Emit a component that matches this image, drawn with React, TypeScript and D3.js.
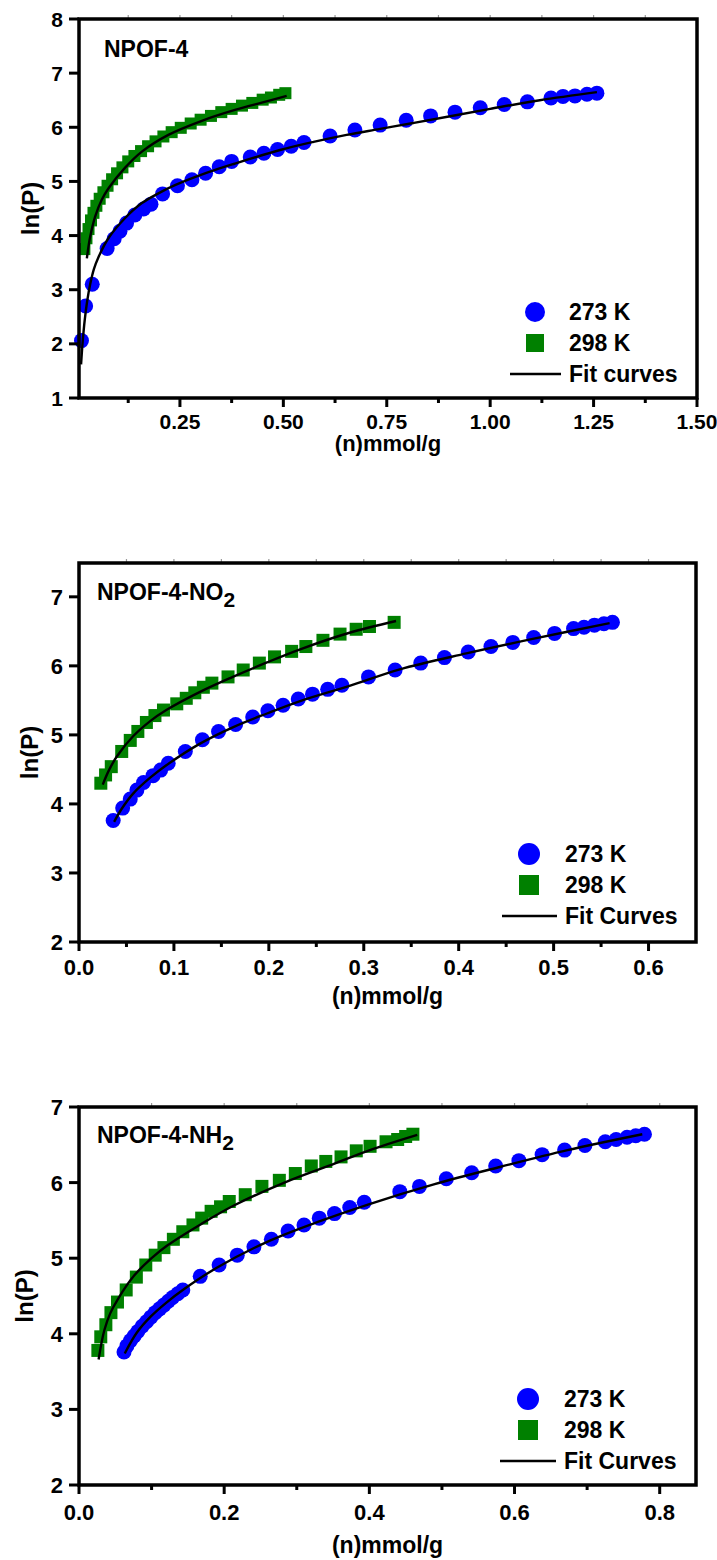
import React from 'react';
import * as d3 from 'd3';

type Pt = [number, number];

// ---------- Panel 1 : NPOF-4 ----------
const P1_TITLE = 'NPOF-4';
const P1_273: Pt[] = [[0.012,2.06],[0.022,2.70],[0.038,3.10],[0.074,3.76],[0.091,3.94],[0.105,4.08],[0.121,4.23],[0.141,4.38],[0.162,4.49],[0.180,4.58],[0.208,4.77],[0.244,4.92],[0.279,5.03],[0.312,5.15],[0.345,5.27],[0.375,5.37],[0.420,5.45],[0.453,5.52],[0.486,5.59],[0.519,5.65],[0.550,5.72],[0.613,5.84],[0.673,5.95],[0.734,6.04],[0.797,6.13],[0.856,6.21],[0.915,6.28],[0.976,6.36],[1.034,6.42],[1.090,6.47],[1.147,6.54],[1.176,6.57],[1.205,6.58],[1.234,6.61],[1.258,6.63]];
const P1_298: Pt[] = [[0.019,3.75],[0.024,3.95],[0.029,4.12],[0.035,4.28],[0.041,4.42],[0.048,4.55],[0.056,4.68],[0.065,4.80],[0.075,4.92],[0.086,5.04],[0.098,5.15],[0.111,5.26],[0.125,5.37],[0.140,5.47],[0.156,5.56],[0.173,5.65],[0.191,5.74],[0.210,5.83],[0.230,5.91],[0.252,5.99],[0.276,6.07],[0.300,6.14],[0.325,6.21],[0.350,6.28],[0.375,6.34],[0.400,6.40],[0.425,6.45],[0.450,6.51],[0.470,6.55],[0.490,6.60],[0.505,6.63]];
const P1_FIT273: Pt[] = [[0.011,1.62],[0.015,2.05],[0.02,2.45],[0.026,2.8],[0.033,3.1],[0.042,3.38],[0.053,3.6],[0.077,3.95],[0.117,4.32],[0.158,4.6],[0.198,4.78],[0.238,4.93],[0.319,5.17],[0.383,5.33],[0.492,5.58],[0.573,5.73],[0.653,5.86],[0.734,5.97],[0.814,6.08],[0.9,6.2],[1.0,6.34],[1.12,6.5],[1.258,6.65]];
const P1_FIT298: Pt[] = [[0.025,3.58],[0.029,3.8],[0.033,3.98],[0.045,4.35],[0.061,4.66],[0.077,4.87],[0.117,5.25],[0.158,5.55],[0.222,5.86],[0.303,6.12],[0.383,6.32],[0.45,6.46],[0.508,6.58]];
const P1_XTICKS = [0.25, 0.5, 0.75, 1.0, 1.25, 1.5];
const P1_XMINOR = [0.125, 0.375, 0.625, 0.875, 1.125, 1.375];
const P1_YTICKS = [1, 2, 3, 4, 5, 6, 7, 8];
const P1_FIT_LABEL = 'Fit curves';

// ---------- Panel 2 : NPOF-4-NO2 ----------
const P2_TITLE = ['NPOF-4-NO', '2'];
const P2_273: Pt[] = [[0.036,3.76],[0.046,3.94],[0.054,4.07],[0.061,4.20],[0.068,4.31],[0.078,4.41],[0.086,4.49],[0.094,4.59],[0.112,4.76],[0.130,4.93],[0.147,5.05],[0.165,5.15],[0.183,5.26],[0.199,5.35],[0.215,5.43],[0.231,5.52],[0.246,5.59],[0.262,5.66],[0.277,5.72],[0.305,5.84],[0.333,5.94],[0.360,6.04],[0.385,6.12],[0.410,6.20],[0.434,6.28],[0.457,6.34],[0.479,6.41],[0.501,6.47],[0.521,6.54],[0.532,6.56],[0.543,6.59],[0.553,6.61],[0.562,6.63]];
const P2_298: Pt[] = [[0.023,4.30],[0.028,4.42],[0.034,4.54],[0.045,4.76],[0.054,4.92],[0.062,5.05],[0.071,5.18],[0.080,5.28],[0.089,5.36],[0.103,5.45],[0.113,5.53],[0.122,5.61],[0.131,5.69],[0.140,5.75],[0.157,5.84],[0.173,5.94],[0.190,6.04],[0.206,6.13],[0.224,6.21],[0.239,6.28],[0.257,6.37],[0.275,6.46],[0.292,6.53],[0.306,6.57],[0.332,6.63]];
const P2_FIT273: Pt[] = [[0.037,3.74],[0.045,3.93],[0.057,4.15],[0.075,4.38],[0.092,4.56],[0.127,4.87],[0.162,5.11],[0.198,5.31],[0.233,5.49],[0.285,5.71],[0.338,5.95],[0.408,6.18],[0.478,6.39],[0.559,6.62]];
const P2_FIT298: Pt[] = [[0.025,4.28],[0.032,4.5],[0.040,4.69],[0.057,4.98],[0.075,5.2],[0.092,5.36],[0.127,5.62],[0.162,5.84],[0.198,6.05],[0.233,6.24],[0.285,6.48],[0.334,6.65]];
const P2_XTICKS = [0, 0.1, 0.2, 0.3, 0.4, 0.5, 0.6];
const P2_XMINOR = [0.05, 0.15, 0.25, 0.35, 0.45, 0.55];
const P2_YTICKS = [2, 3, 4, 5, 6, 7];

// ---------- Panel 3 : NPOF-4-NH2 ----------
const P3_TITLE = ['NPOF-4-NH', '2'];
const P3_273: Pt[] = [[0.062,3.76],[0.066,3.84],[0.071,3.91],[0.076,3.97],[0.081,4.03],[0.087,4.10],[0.093,4.16],[0.099,4.22],[0.105,4.28],[0.111,4.33],[0.117,4.38],[0.123,4.43],[0.129,4.48],[0.136,4.53],[0.143,4.58],[0.167,4.76],[0.193,4.91],[0.218,5.04],[0.241,5.15],[0.265,5.25],[0.288,5.36],[0.310,5.44],[0.331,5.53],[0.352,5.59],[0.373,5.67],[0.393,5.74],[0.442,5.88],[0.469,5.95],[0.506,6.05],[0.541,6.13],[0.574,6.22],[0.606,6.29],[0.638,6.37],[0.669,6.43],[0.697,6.49],[0.725,6.54],[0.740,6.57],[0.755,6.60],[0.767,6.62],[0.779,6.64]];
const P3_298: Pt[] = [[0.026,3.78],[0.030,3.96],[0.037,4.12],[0.044,4.28],[0.053,4.42],[0.065,4.58],[0.079,4.75],[0.092,4.91],[0.105,5.04],[0.117,5.14],[0.130,5.25],[0.143,5.35],[0.157,5.44],[0.169,5.53],[0.182,5.62],[0.195,5.68],[0.207,5.75],[0.229,5.84],[0.252,5.95],[0.276,6.03],[0.298,6.12],[0.320,6.22],[0.340,6.28],[0.361,6.34],[0.382,6.42],[0.401,6.48],[0.423,6.54],[0.439,6.57],[0.450,6.61],[0.460,6.64]];
const P3_FIT273: Pt[] = [[0.063,3.74],[0.08,4.02],[0.099,4.23],[0.12,4.41],[0.143,4.58],[0.191,4.88],[0.26,5.22],[0.329,5.48],[0.398,5.71],[0.49,5.98],[0.581,6.21],[0.673,6.43],[0.776,6.64]];
const P3_FIT298: Pt[] = [[0.027,3.66],[0.031,3.88],[0.035,4.05],[0.043,4.27],[0.053,4.45],[0.076,4.77],[0.1,5.0],[0.122,5.17],[0.168,5.45],[0.214,5.7],[0.283,6.0],[0.352,6.25],[0.398,6.42],[0.466,6.63]];
const P3_XTICKS = [0, 0.2, 0.4, 0.6, 0.8];
const P3_XMINOR = [0.1, 0.3, 0.5, 0.7];
const P3_YTICKS = [2, 3, 4, 5, 6, 7];

const SERIES_LABELS = ['273 K', '298 K'];
const FIT_LABEL = 'Fit Curves';
const X_LABEL = '(n)mmol/g';
const Y_LABEL = 'ln(P)';

const BLUE = '#0000FF';
const GREEN = '#008000';
const FONT = '"Liberation Sans", Arial, Helvetica, sans-serif';

type PanelCfg = {
  title: string[];
  titleX: number; titleY: number;
  s273: Pt[]; s298: Pt[]; f273: Pt[]; f298: Pt[];
  xDomain: [number, number]; yDomain: [number, number];
  xTicks: number[]; xMinor: number[]; yTicks: number[];
  xFmt: string;
  left: number; right: number; top: number; bottom: number;
  tickFont: number; tickLabelY: number; xLabelFont: number; xLabelY: number; yLabelX: number;
  legX: number; legY: number; legTextX: number; legLineX0: number; fitLabel: string;
  r: number; sq: number; legR: number; legSq: number;
};

function Panel({ c }: { c: PanelCfg }) {
  const x = d3.scaleLinear().domain(c.xDomain).range([c.left, c.right]);
  const y = d3.scaleLinear().domain(c.yDomain).range([c.bottom, c.top]);
  const line = d3.line<Pt>().x(d => x(d[0])).y(d => y(d[1])).curve(d3.curveCatmullRom.alpha(0.5));
  const fmt = d3.format(c.xFmt);
  const cx = (c.left + c.right) / 2;
  const cy = (c.top + c.bottom) / 2;
  const legGap = 31;
  return (
    <g fontFamily={FONT} fontWeight="bold" fill="#000">
      {[...c.xTicks, ...c.xMinor].filter(v => x(v) > c.left + 3 && x(v) < c.right - 3).map((v, i) => (
        <line key={'tt' + i} x1={x(v)} x2={x(v)} y1={c.top - 1} y2={c.top - 4} stroke="#999" strokeWidth={1.2} />
      ))}
      {c.s273.map((d, i) => (
        <circle key={'a' + i} cx={x(d[0])} cy={y(d[1])} r={c.r} fill={BLUE} />
      ))}
      {c.s298.map((d, i) => (
        <rect key={'b' + i} x={x(d[0]) - c.sq / 2} y={y(d[1]) - c.sq / 2} width={c.sq} height={c.sq} fill={GREEN} />
      ))}
      <path d={line(c.f273) || ''} fill="none" stroke="#000" strokeWidth={2.4} />
      <path d={line(c.f298) || ''} fill="none" stroke="#000" strokeWidth={2.4} />
      <rect x={c.left} y={c.top} width={c.right - c.left} height={c.bottom - c.top} fill="none" stroke="#000" strokeWidth={3.5} />
      {c.xTicks.map((v, i) => (
        <g key={'xt' + i}>
          <line x1={x(v)} x2={x(v)} y1={c.bottom} y2={c.bottom + 9} stroke="#000" strokeWidth={3} />
          <text x={x(v)} y={c.tickLabelY} textAnchor="middle" fontSize={c.tickFont}>{fmt(v)}</text>
        </g>
      ))}
      {c.xMinor.map((v, i) => (
        <line key={'xm' + i} x1={x(v)} x2={x(v)} y1={c.bottom} y2={c.bottom + 5} stroke="#000" strokeWidth={3} />
      ))}
      {c.yTicks.map((v, i) => (
        <g key={'yt' + i}>
          <line x1={c.left} x2={c.left - 10} y1={y(v)} y2={y(v)} stroke="#000" strokeWidth={3} />
          <text x={c.left - 16} y={y(v)} dy="0.36em" textAnchor="end" fontSize={c.tickFont}>{v}</text>
        </g>
      ))}
      <text x={cx} y={c.xLabelY} textAnchor="middle" fontSize={c.xLabelFont}>{X_LABEL}</text>
      <text transform={`translate(${c.yLabelX},${cy}) rotate(-90)`} textAnchor="middle" dy="0.36em" fontSize={24}>{Y_LABEL}</text>
      <text x={c.titleX} y={c.titleY} fontSize={23}>
        {c.title[0]}
        {c.title[1] ? <tspan dy={7} fontSize={21}>{c.title[1]}</tspan> : null}
      </text>
      <circle cx={c.legX} cy={c.legY} r={c.legR} fill={BLUE} />
      <text x={c.legTextX} y={c.legY} dy="0.36em" fontSize={23}>{SERIES_LABELS[0]}</text>
      <rect x={c.legX - c.legSq / 2} y={c.legY + legGap - c.legSq / 2} width={c.legSq} height={c.legSq} fill={GREEN} />
      <text x={c.legTextX} y={c.legY + legGap} dy="0.36em" fontSize={23}>{SERIES_LABELS[1]}</text>
      <line x1={c.legLineX0} x2={c.legTextX - 8} y1={c.legY + legGap * 2} y2={c.legY + legGap * 2} stroke="#000" strokeWidth={2.4} />
      <text x={c.legTextX} y={c.legY + legGap * 2} dy="0.36em" fontSize={23}>{c.fitLabel}</text>
    </g>
  );
}

const PANELS: PanelCfg[] = [
  {
    title: [P1_TITLE], titleX: 104, titleY: 57,
    s273: P1_273, s298: P1_298, f273: P1_FIT273, f298: P1_FIT298,
    xDomain: [0.006, 1.5], yDomain: [1, 8],
    xTicks: P1_XTICKS, xMinor: P1_XMINOR, yTicks: P1_YTICKS, xFmt: '.2f',
    left: 79, right: 697, top: 19, bottom: 398,
    tickFont: 21, tickLabelY: 429, xLabelFont: 22, xLabelY: 451, yLabelX: 30,
    legX: 535, legY: 312, legTextX: 569, legLineX0: 510, fitLabel: P1_FIT_LABEL,
    r: 7.5, sq: 12, legR: 10, legSq: 18,
  },
  {
    title: P2_TITLE, titleX: 97, titleY: 600,
    s273: P2_273, s298: P2_298, f273: P2_FIT273, f298: P2_FIT298,
    xDomain: [0, 0.65], yDomain: [2, 7.49],
    xTicks: P2_XTICKS, xMinor: P2_XMINOR, yTicks: P2_YTICKS, xFmt: '.1f',
    left: 79, right: 696, top: 563, bottom: 942,
    tickFont: 22, tickLabelY: 975, xLabelFont: 23, xLabelY: 1004, yLabelX: 29,
    legX: 529, legY: 854, legTextX: 565, legLineX0: 502, fitLabel: FIT_LABEL,
    r: 7.5, sq: 13, legR: 11, legSq: 20,
  },
  {
    title: P3_TITLE, titleX: 97, titleY: 1143,
    s273: P3_273, s298: P3_298, f273: P3_FIT273, f298: P3_FIT298,
    xDomain: [0, 0.85], yDomain: [2, 7],
    xTicks: P3_XTICKS, xMinor: P3_XMINOR, yTicks: P3_YTICKS, xFmt: '.1f',
    left: 79, right: 696, top: 1107, bottom: 1485,
    tickFont: 22, tickLabelY: 1520, xLabelFont: 23, xLabelY: 1553, yLabelX: 24,
    legX: 528, legY: 1399, legTextX: 564, legLineX0: 500, fitLabel: FIT_LABEL,
    r: 7.5, sq: 13, legR: 11, legSq: 20,
  },
];

export default function App() {
  return (
    <svg width={717} height={1560} viewBox="0 0 717 1560" style={{ position: 'absolute', left: 0, top: 0, background: '#fff' }}>
      <rect x={0} y={0} width={717} height={1560} fill="#fff" />
      {PANELS.map((p, i) => <Panel key={i} c={p} />)}
    </svg>
  );
}
